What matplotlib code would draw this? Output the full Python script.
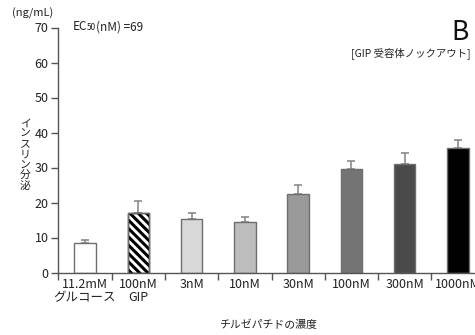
import matplotlib
matplotlib.use("Agg")
import matplotlib.pyplot as plt
import numpy as np

plt.rcParams['font.family'] = ['Noto Sans CJK JP', 'DejaVu Sans']
plt.rcParams['hatch.linewidth'] = 2.2

categories = ["11.2mM\nグルコース", "100nM\nGIP", "3nM", "10nM", "30nM", "100nM", "300nM", "1000nM"]
values = [8.3, 16.9, 15.2, 14.3, 22.5, 29.5, 31.0, 35.6]
errors = [1.1, 3.4, 1.9, 1.5, 2.4, 2.5, 3.1, 2.4]
colors = ["#ffffff", "#ffffff", "#d9d9d9", "#bdbdbd", "#999999", "#747474", "#4a4a4a", "#000000"]
hatches = [None, "\\\\\\\\", None, None, None, None, None, None]
yticks = [0, 10, 20, 30, 40, 50, 60, 70]

fig = plt.figure(figsize=(4.75, 3.35), dpi=100)
W, H = 475, 335
x0, x1 = 58.3, 484.7
y0, y1 = 272.5, 27.5
ax = fig.add_axes([x0 / W, (H - y0) / H, (x1 - x0) / W, (y0 - y1) / H])

x = np.arange(len(categories))
for i in range(len(categories)):
    ec = "#000000" if hatches[i] else "#6e6e6e"
    ax.bar(x[i], values[i], width=0.4, color=colors[i], edgecolor=ec,
           hatch=hatches[i], linewidth=1.0, zorder=2)
    if hatches[i]:
        ax.bar(x[i], values[i], width=0.4, color="none", edgecolor="#6e6e6e",
               linewidth=1.0, zorder=3)

eb = ax.errorbar(x, values, yerr=[np.zeros(len(values)), errors], fmt="none",
                 ecolor="#8a8a8a", elinewidth=1.2, capsize=3, capthick=1.2, zorder=1)
for cl in eb[1]:
    cl.set_color("#222222")

ax.set_xlim(-0.5, 7.5)
ax.set_ylim(0, 70)
ax.set_yticks(yticks)
ax.set_xticks(x)
ax.set_xticklabels(categories, fontsize=9, linespacing=1.0, color="#222222")
ax.set_xticks(np.arange(-0.5, 7.0, 1.0), minor=True)
ax.tick_params(axis="x", which="major", length=0, pad=4)
ax.tick_params(axis="x", which="minor", length=5, width=1, color="#555555", direction="out")
ax.tick_params(axis="y", length=5, width=1, color="#555555", labelsize=9,
               labelcolor="#222222", pad=2)
for s in ["top", "right"]:
    ax.spines[s].set_visible(False)
for s in ["left", "bottom"]:
    ax.spines[s].set_color("#555555")
    ax.spines[s].set_linewidth(1.0)

fig.text(12 / W, 1 - 13 / H, "(ng/mL)", fontsize=8, va="center", ha="left", color="#222222")
fig.text(73 / W, 1 - 27 / H, "EC", fontsize=8.5, va="center", ha="left", color="#222222")
fig.text(87 / W, 1 - 28 / H, "50", fontsize=6, va="center", ha="left", color="#222222")
fig.text(96 / W, 1 - 27 / H, "(nM) =69", fontsize=8.5, va="center", ha="left", color="#222222")
fig.text(469 / W, 1 - 32 / H, "B", fontsize=19, va="center", ha="right", color="#111111")
fig.text(471 / W, 1 - 53 / H, "[GIP 受容体ノックアウト]", fontsize=7.5, va="center", ha="right",
         color="#222222")
fig.text(25 / W, 1 - 155 / H, "\n".join("インスリン分泌"), fontsize=7.8, va="center", ha="center",
         linespacing=1.05, color="#222222")
fig.text(268 / W, 1 - 325 / H, "チルゼパチドの濃度", fontsize=7.8, va="center", ha="center",
         color="#222222")

fig.savefig("out.png", dpi=100)
